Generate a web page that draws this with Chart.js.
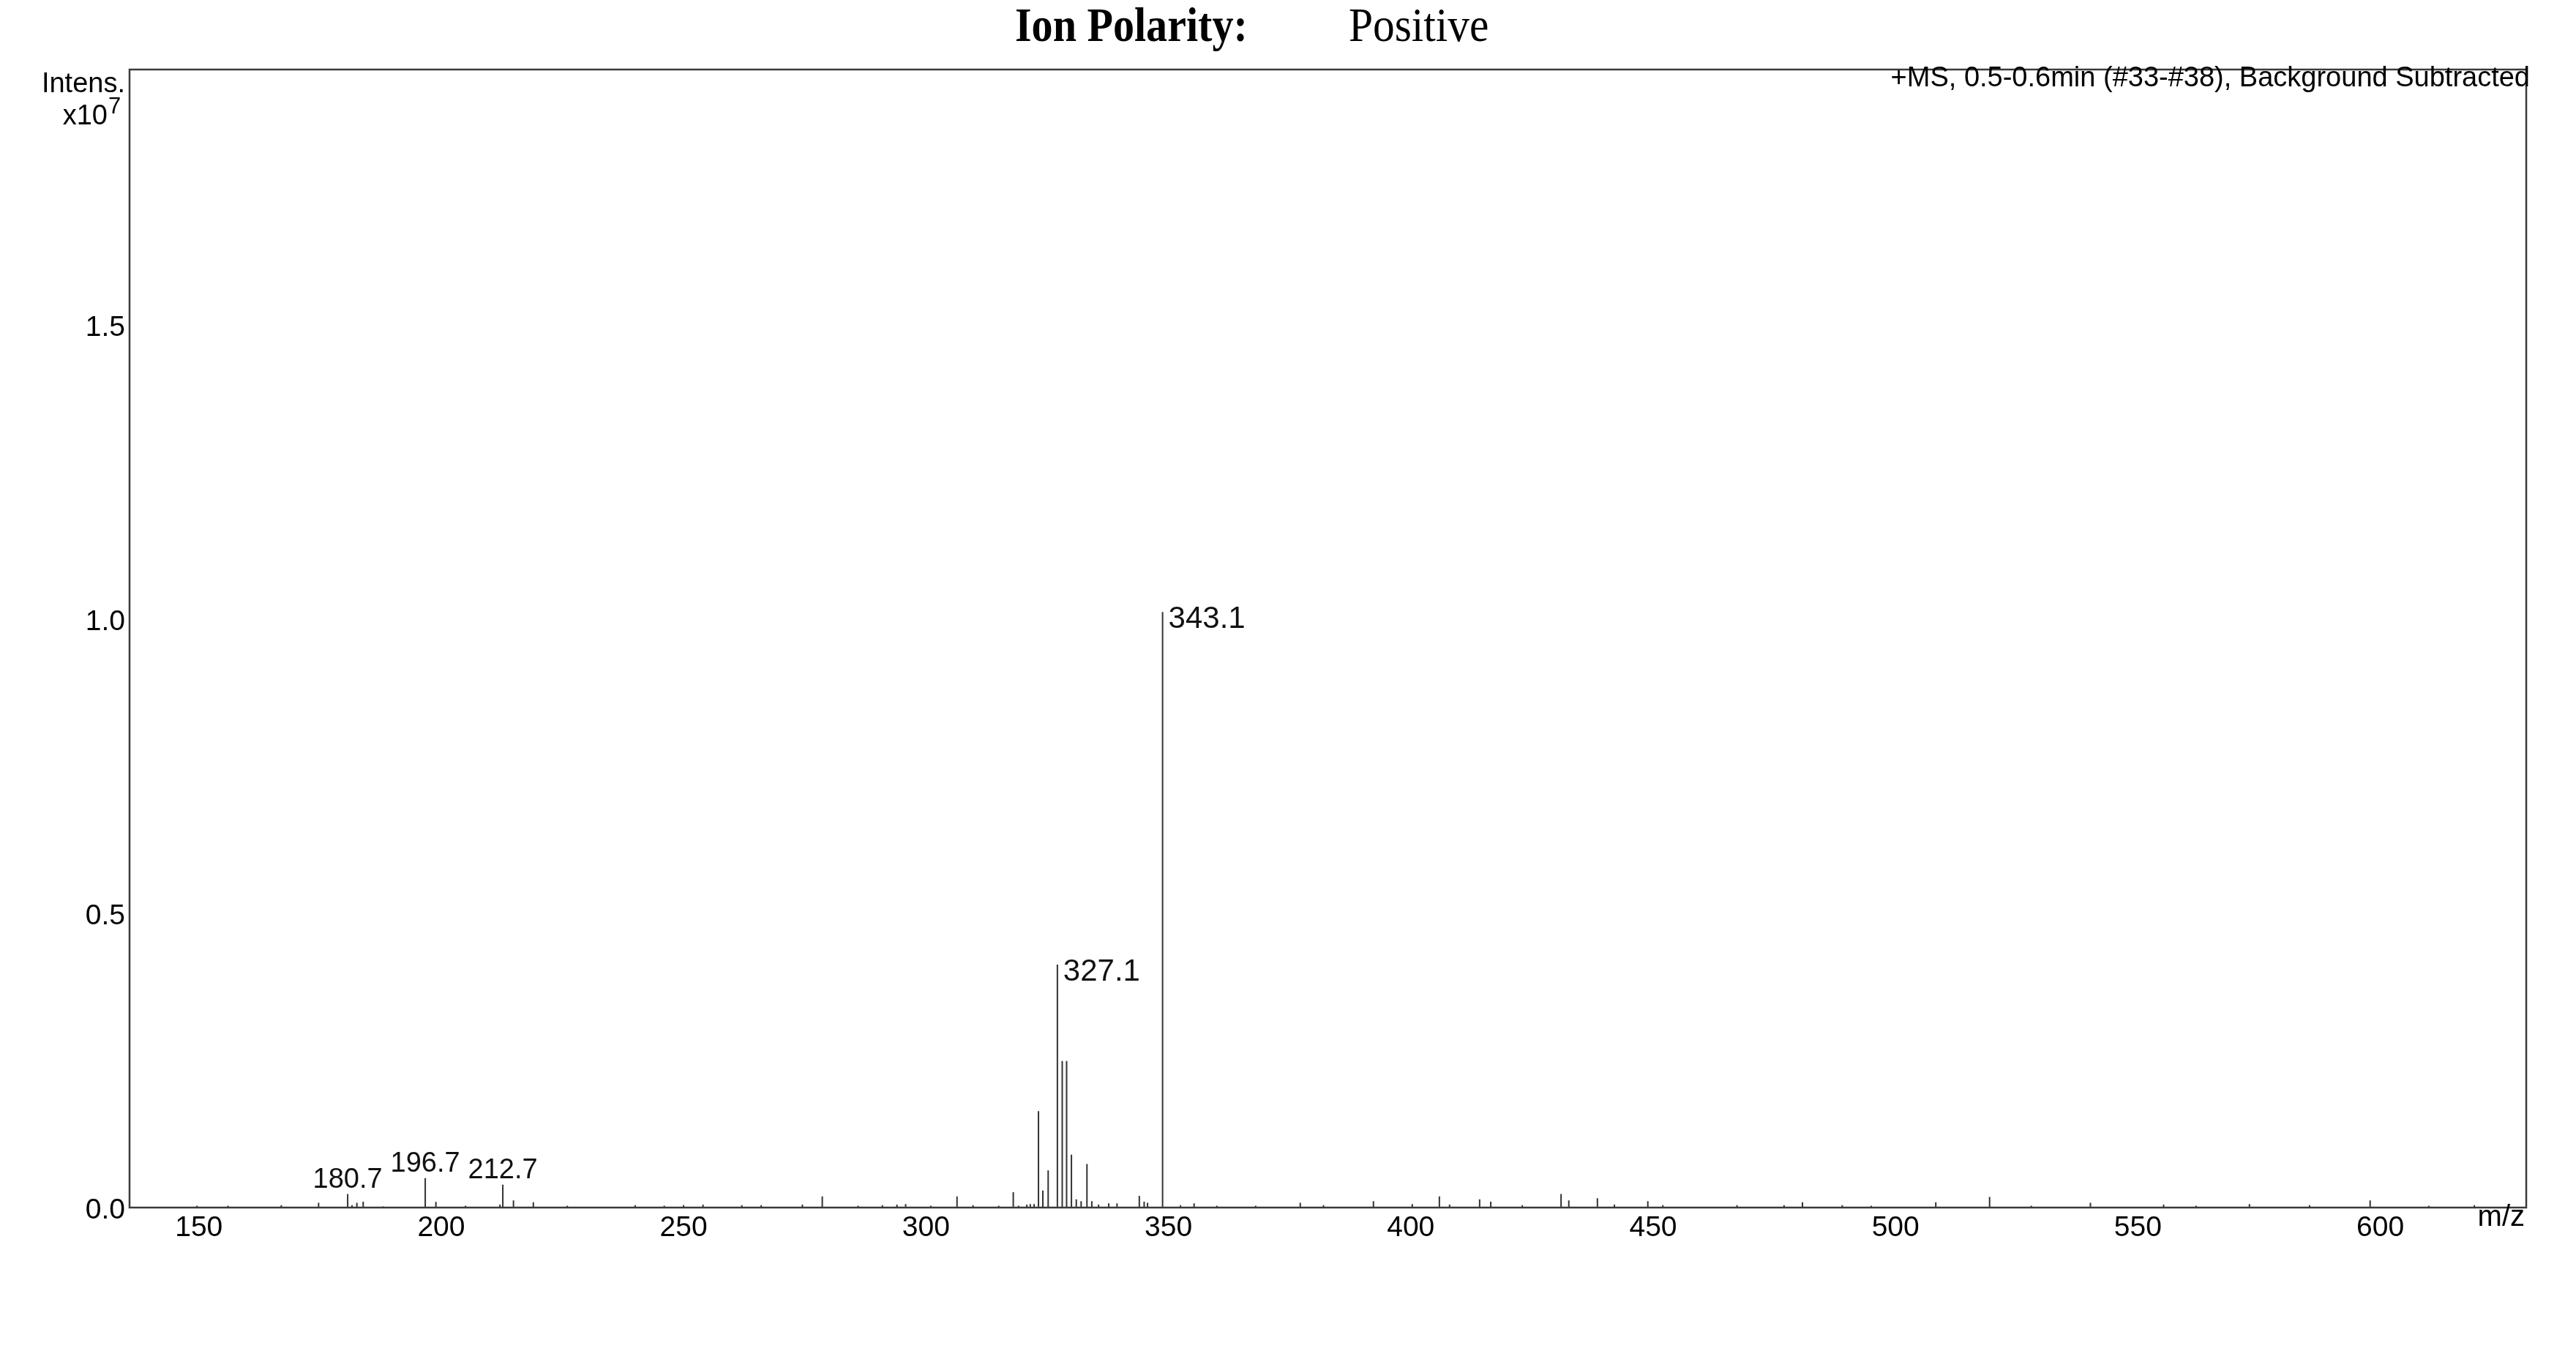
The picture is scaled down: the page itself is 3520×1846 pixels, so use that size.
<!DOCTYPE html>
<html><head><meta charset="utf-8">
<script src="https://cdn.jsdelivr.net/npm/chart.js@4.4.1/dist/chart.umd.min.js"></script>
<style>html,body{margin:0;padding:0;background:#fff;} #wrap{width:3520px;height:1846px;position:relative;}</style>
</head><body><div id="wrap"><canvas id="c" width="3520" height="1846"></canvas></div>
<script>
// m/z positions of sticks
const peakMz = [149.6,156,167.0,174.7,180.7,181.6,182.6,183.9,188,196.7,198.9,205,212.1,212.7,214.9,219.0,226,240.0,246,250.0,254.0,262.0,266.0,274.5,278.6,286,291.0,294.0,295.8,301,306.4,309.7,315,318.0,319.1,320.8,321.5,322.3,323.2,324.1,325.2,327.1,328.1,329.0,330.0,331.0,332.0,333.2,334.2,335.6,337.7,339.4,344.0,345.0,345.7,348.8,352.5,355.3,360,368,377.2,382,392.3,400.3,405.9,408,414.2,416.5,423,431.0,432.6,438.5,442,448.9,452,467.3,477.0,480.8,489.0,495,508.3,519.4,528,540.2,555.3,562,573.0,585.4,597.9,610,619.4];
// intensities, x10^7
const peakIntensity = [0.003,0.003,0.004,0.008,0.023,0.004,0.008,0.010,0.002,0.050,0.0095,0.003,0.005,0.039,0.012,0.009,0.003,0.004,0.003,0.004,0.005,0.004,0.004,0.005,0.019,0.003,0.004,0.005,0.006,0.003,0.019,0.004,0.003,0.026,0.003,0.005,0.006,0.006,0.164,0.029,0.063,0.413,0.249,0.249,0.090,0.014,0.011,0.074,0.011,0.005,0.007,0.007,0.020,0.010,0.008,1.012,0.004,0.007,0.003,0.003,0.008,0.004,0.011,0.006,0.019,0.005,0.014,0.010,0.004,0.023,0.012,0.016,0.005,0.011,0.004,0.004,0.004,0.009,0.004,0.003,0.009,0.018,0.003,0.008,0.005,0.003,0.006,0.004,0.012,0.003,0.004];
// labelled peaks: where the stick is drawn, and the printed text
const labelMz = [180.7, 196.7, 212.7, 327.1, 348.8];
const labelText = ['180.7', '196.7', '212.7', '327.1', '343.1'];
const xTicks = [150, 200, 250, 300, 350, 400, 450, 500, 550, 600];
const yTicks = [0.0, 0.5, 1.0, 1.5];
const xRange = [135.7, 630.1];
const yRange = [0, 1.934];

// profile line: baseline with sticks
const profile = [{x: xRange[0], y: 0}];
peakMz.forEach((m, i) => {
  profile.push({x: m, y: 0}, {x: m, y: peakIntensity[i]}, {x: m, y: 0});
});
profile.push({x: xRange[1], y: 0});

const FONT = "'Liberation Sans', Arial, sans-serif";
const SERIF = "'Liberation Serif', 'Times New Roman', serif";

const decor = {
  id: 'decor',
  afterDraw(chart) {
    const ctx = chart.ctx, a = chart.chartArea;
    const xs = chart.scales.x, ys = chart.scales.y;
    ctx.save();
    // frame
    ctx.strokeStyle = '#3a3a3a';
    ctx.lineWidth = 2.5;
    ctx.strokeRect(a.left, a.top, a.right - a.left, a.bottom - a.top);
    // peak labels
    ctx.fillStyle = '#111';
    labelMz.forEach((m, i) => {
      const idx = peakMz.indexOf(m);
      const h = peakIntensity[idx];
      const px = xs.getPixelForValue(m), py = ys.getPixelForValue(h);
      if (h > 0.2) {
        ctx.font = '42px ' + FONT;
        ctx.textAlign = 'left'; ctx.textBaseline = 'middle';
        ctx.fillText(labelText[i], px + 8, py + 10);
      } else {
        ctx.font = '38px ' + FONT;
        ctx.textAlign = 'center'; ctx.textBaseline = 'alphabetic';
        ctx.fillText(labelText[i], px, py - 9);
      }
    });
    // y-axis unit label
    ctx.fillStyle = '#000';
    ctx.textAlign = 'right'; ctx.textBaseline = 'alphabetic';
    ctx.font = '38px ' + FONT;
    ctx.fillText('Intens.', 171, 126);
    ctx.fillText('x10', 147, 170);
    ctx.textAlign = 'left';
    ctx.font = '31px ' + FONT;
    ctx.fillText('7', 148, 155);
    // x-axis unit
    ctx.font = '40px ' + FONT;
    ctx.textAlign = 'right'; ctx.textBaseline = 'middle';
    ctx.fillText('m/z', 3450, 1664);
    // scan description
    ctx.font = '38px ' + FONT;
    ctx.fillText('+MS, 0.5-0.6min (#33-#38), Background Subtracted', 3457, 108);
    // title
    ctx.textAlign = 'left'; ctx.textBaseline = 'alphabetic';
    ctx.save();
    ctx.translate(1387, 56); ctx.scale(0.88, 1);
    ctx.font = 'bold 66px ' + SERIF;
    ctx.fillText('Ion Polarity:', 0, 0);
    ctx.restore();
    ctx.save();
    ctx.translate(1843, 56); ctx.scale(0.9, 1);
    ctx.font = '66px ' + SERIF;
    ctx.fillText('Positive', 0, 0);
    ctx.restore();
    ctx.restore();
  }
};

new Chart(document.getElementById('c'), {
  type: 'scatter',
  data: {
    datasets: [{
      data: profile,
      showLine: true,
      borderColor: '#333',
      borderWidth: 2,
      pointRadius: 0,
      pointHoverRadius: 0,
      tension: 0
    }]
  },
  options: {
    responsive: false,
    animation: false,
    devicePixelRatio: 1,
    layout: {padding: {top: 95, right: 68, left: 0, bottom: 0}},
    plugins: {legend: {display: false}, tooltip: {enabled: false}},
    scales: {
      x: {
        type: 'linear', min: xRange[0], max: xRange[1],
        afterBuildTicks: s => { s.ticks = xTicks.map(v => ({value: v})); },
        afterFit: s => { s.height = 196; },
        grid: {display: false, drawTicks: false},
        border: {display: false},
        ticks: {color: '#000', font: {family: FONT, size: 39}, padding: 5, maxRotation: 0, autoSkip: false,
          callback: v => String(v)}
      },
      y: {
        type: 'linear', min: yRange[0], max: yRange[1],
        afterBuildTicks: s => { s.ticks = yTicks.map(v => ({value: v})); },
        afterFit: s => { s.width = 177; },
        grid: {display: false, drawTicks: false},
        border: {display: false},
        ticks: {color: '#000', font: {family: FONT, size: 39}, padding: 6, labelOffset: 4, autoSkip: false,
          callback: v => Number(v).toFixed(1)}
      }
    }
  },
  plugins: [decor]
});
</script>
</body></html>
